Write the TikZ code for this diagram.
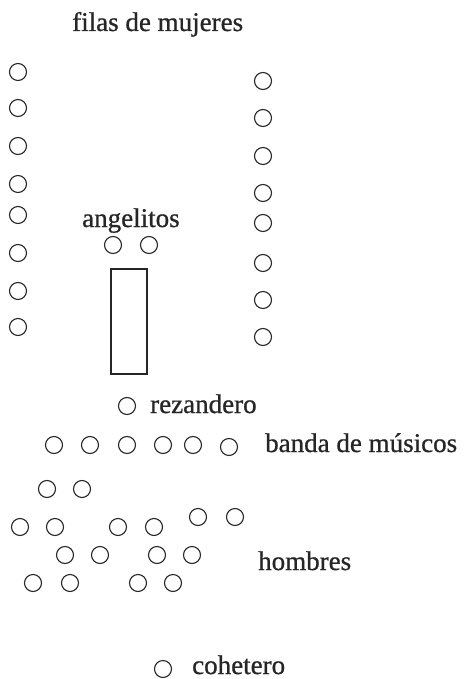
\documentclass[tikz,border=0pt]{standalone}
\usepackage{fontspec}
\setmainfont{Liberation Serif}
\newfontfamily\lblfont[FakeBold=0.8]{Liberation Serif}
\begin{document}
\begin{tikzpicture}[x=1pt,y=-1pt,
  pers/.style={draw=black!85,circle,line width=1.1pt,minimum size=17pt,inner sep=0pt},
  lbl/.style={anchor=base west,inner sep=0pt,font=\lblfont\fontsize{27}{30}\selectfont,text=black!85},
  box/.style={draw=black!85,line width=1.1pt,inner sep=0pt}]
\useasboundingbox (0,0) rectangle (464,679);
% title
\node[lbl] (tmuj) at (72,31) {filas de mujeres};
% left row of women
\foreach \y [count=\i] in {72,108,146,184,215,253,291,327}
  \node[pers] (l\i) at (18,\y) {};
% right row of women
\foreach \y [count=\i] in {81,118,156,193,223,263,300,337}
  \node[pers] (r\i) at (263,\y) {};
% angelitos
\node[lbl] (tang) at (82,227) {angelitos};
\node[pers] (a1) at (113,245) {};
\node[pers] (a2) at (149,245) {};
% coffin
\node[box,minimum width=36pt,minimum height=105pt] (coffin) at (129,321.5) {};
% rezandero
\node[pers] (rez) at (127,406) {};
\node[lbl] (trez) at (150,413) {rezandero};
% banda
\foreach \x [count=\i] in {54,90,127,163,193}
  \node[pers] (b\i) at (\x,445) {};
\node[pers] (b6) at (229,447) {};
\node[lbl] (tban) at (265,452) {banda de músicos};
% hombres
\node[pers] (h1) at (47,489) {};
\node[pers] (h2) at (82,489) {};
\node[pers] (h3) at (20,527) {};
\node[pers] (h4) at (55,527) {};
\node[pers] (h5) at (118,527) {};
\node[pers] (h6) at (154,527) {};
\node[pers] (h7) at (198,517) {};
\node[pers] (h8) at (235,517) {};
\node[pers] (h9) at (65,555) {};
\node[pers] (h10) at (100,555) {};
\node[pers] (h11) at (157,555) {};
\node[pers] (h12) at (192,555) {};
\node[pers] (h13) at (33,583) {};
\node[pers] (h14) at (70,583) {};
\node[pers] (h15) at (138,583) {};
\node[pers] (h16) at (173,583) {};
\node[lbl] (thom) at (258,570) {hombres};
% cohetero
\node[pers] (coh) at (163,669) {};
\node[lbl] (tcoh) at (192,674) {cohetero};
\end{tikzpicture}
\end{document}
